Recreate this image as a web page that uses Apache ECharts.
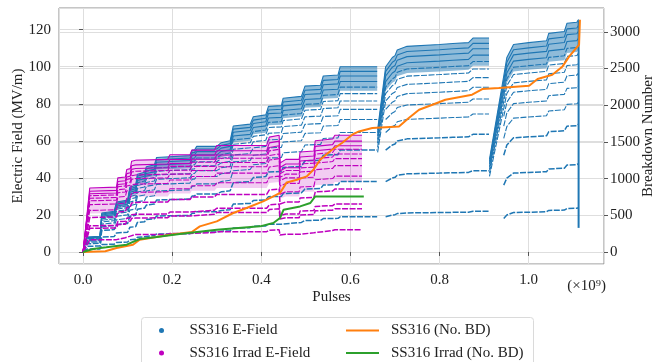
<!DOCTYPE html>
<html>
<head>
<meta charset="utf-8">
<script src="https://cdn.jsdelivr.net/npm/echarts@6/dist/echarts.min.js"></script>
<style>
html, body { margin: 0; padding: 0; background: #fff; }
#chart { width: 664px; height: 362px; }
</style>
</head>
<body>
<div id="chart"></div>
<script>
// upper edge of the SS316 E-field scatter, [pulses (1e9), MV/m]
const ssEnvelope1 = [[0, 0], [0.008, 8], [0.038, 8.5], [0.042, 21], [0.07, 22], [0.075, 27], [0.1, 28], [0.105, 35],
  [0.118, 36], [0.122, 42], [0.138, 43], [0.142, 46], [0.16, 47], [0.165, 51], [0.24, 52], [0.245, 55], [0.25, 55],
  [0.255, 57], [0.3, 57], [0.31, 59], [0.33, 60], [0.337, 68], [0.375, 69], [0.382, 73], [0.41, 74], [0.416, 78.6],
  [0.445, 79], [0.449, 83], [0.49, 84], [0.498, 89.5], [0.533, 90], [0.539, 95], [0.572, 95.5], [0.577, 100], [0.66, 100]];
const ssEnvelope2 = [[0.661, 66], [0.679, 100], [0.694, 105], [0.7, 106], [0.705, 109], [0.727, 111], [0.8, 112],
  [0.83, 112.5], [0.865, 113], [0.875, 115.5], [0.911, 115.5]];
const ssEnvelope3 = [[0.912, 50], [0.944, 95], [0.951, 105], [0.966, 112], [1.0, 113], [1.04, 114], [1.045, 118],
  [1.08, 119], [1.086, 123.5], [1.108, 124], [1.112, 125.5]];
const ssDrop = [[1.112, 13], [1.112, 125]];
// horizontal bands of the scatter, as fraction of the upper edge
const ssLevels = [0.19, 0.38, 0.55, 0.645, 0.715, 0.77, 0.815, 0.855, 0.89, 0.92, 0.95, 0.975, 1];

// upper edge of the SS316 Irrad E-field scatter
const irrEnvelope = [[0, 0], [0.015, 34.5], [0.075, 35], [0.078, 40], [0.095, 40.5], [0.098, 44.5], [0.106, 45],
  [0.109, 49], [0.118, 49.5], [0.12, 50], [0.19, 50], [0.195, 52.5], [0.24, 52.5], [0.244, 55], [0.295, 55],
  [0.3, 57.5], [0.412, 57.5], [0.418, 62], [0.44, 63], [0.442, 48], [0.455, 50], [0.485, 50], [0.487, 54],
  [0.518, 54.5], [0.521, 60], [0.56, 61], [0.565, 63], [0.626, 63]];
const irrLevels = [0.19, 0.37, 0.41, 0.54, 0.65, 0.74, 0.8, 0.84, 0.88, 0.91, 0.95, 1];

// cumulative breakdown number (right axis)
const ssBD = [[0, 0], [0.05, 10], [0.075, 54], [0.112, 99], [0.127, 167], [0.165, 204], [0.195, 236], [0.244, 272],
  [0.262, 349], [0.3, 417], [0.337, 531], [0.367, 599], [0.404, 689], [0.427, 757], [0.442, 804], [0.457, 948],
  [0.48, 985], [0.502, 1030], [0.517, 1121], [0.532, 1257], [0.558, 1390], [0.581, 1485], [0.604, 1598],
  [0.619, 1643], [0.649, 1689], [0.709, 1711], [0.731, 1826], [0.754, 1938], [0.784, 2007], [0.813, 2075],
  [0.873, 2143], [0.896, 2220], [0.933, 2234], [1.001, 2266], [1.02, 2357], [1.053, 2416], [1.076, 2529],
  [1.091, 2665], [1.113, 2824], [1.115, 3165]];
const irrBD = [[0, 0], [0.022, 41], [0.052, 63], [0.098, 99], [0.127, 177], [0.165, 204], [0.217, 245], [0.3, 304],
  [0.397, 349], [0.427, 395], [0.442, 463], [0.45, 576], [0.487, 621], [0.51, 667], [0.521, 757], [0.63, 757]];

const xTicks = [0, 0.2, 0.4, 0.6, 0.8, 1.0];

const BLUE = '#1f77b4', MAG = '#bf00bf', ORANGE = '#ff7f0e', GREEN = '#2ca02c';
const FONT = '"Liberation Serif", "Times New Roman", serif';

const chart = echarts.init(document.getElementById('chart'), null, { renderer: 'canvas' });

function band(name, env, lo, color, opacity) {
  return {
    type: 'custom', name: name, silent: true, clip: true, data: [[0, 0]],
    renderItem: function (params, api) {
      const top = env.map(p => api.coord([p[0], p[1]]));
      const bot = env.slice().reverse().map(p => api.coord([p[0], p[1] * lo]));
      return { type: 'polygon', shape: { points: top.concat(bot) }, style: { fill: color, opacity: opacity } };
    }
  };
}

// lower bands skip the steep ramp at the start of a run (only sparse points there)
function stripes(name, env, levels, color, skipRamp) {
  return levels.map(f => ({
    type: 'line', name: name, silent: true, showSymbol: false,
    data: (skipRamp && f < 0.8 ? env.slice(1) : env).map(p => [p[0], p[1] * f]),
    lineStyle: { color: color, width: f < 0.6 ? 1.5 : 1.1, type: f < 0.9 ? [6, 1.5] : 'solid' }
  }));
}

const series = [];
[ssEnvelope1, ssEnvelope2, ssEnvelope3].forEach((env, i) => {
  series.push(band('SS316 E-Field', env, 0.87, BLUE, 0.5));
  series.push(...stripes('SS316 E-Field', env, ssLevels, BLUE, i > 0));
});
series.push({ type: 'line', name: 'SS316 E-Field', silent: true, showSymbol: false, data: ssDrop, lineStyle: { color: BLUE, width: 2 } });
series.push(band('SS316 Irrad E-Field', irrEnvelope, 0.6, MAG, 0.2));
series.push(...stripes('SS316 Irrad E-Field', irrEnvelope, irrLevels, MAG, false));
series.push({ type: 'line', name: 'SS316 (No. BD)', yAxisIndex: 1, showSymbol: false, data: ssBD, lineStyle: { color: ORANGE, width: 2 }, itemStyle: { color: ORANGE } });
series.push({ type: 'line', name: 'SS316 Irrad (No. BD)', yAxisIndex: 1, showSymbol: false, data: irrBD, lineStyle: { color: GREEN, width: 2 }, itemStyle: { color: GREEN } });

const axisText = { fontFamily: FONT, fontSize: 15, color: '#222' };
const legendText = { fontFamily: FONT, fontSize: 15, color: '#222', lineHeight: 17 };

chart.setOption({
  animation: false,
  backgroundColor: '#fff',
  grid: { left: 59, right: 60, top: 8, bottom: 98, outerBoundsMode: 'none', containLabel: false, show: true, borderColor: '#8c8c8c', borderWidth: 1, backgroundColor: 'transparent' },
  xAxis: {
    type: 'value', min: -0.054, max: 1.169, splitNumber: 6,
    name: 'Pulses', nameLocation: 'middle', nameGap: 26, nameMoveOverlap: false, nameTextStyle: axisText,
    axisLine: { show: false },
    axisTick: { show: true, length: 4, lineStyle: { color: '#555' } },
    axisLabel: Object.assign({ margin: 9, showMinLabel: false, showMaxLabel: false, formatter: v => xTicks.some(t => Math.abs(t - v) < 1e-6) ? v.toFixed(1) : '' }, axisText),
    splitLine: { show: true, lineStyle: { color: '#dedede', width: 1 } }
  },
  yAxis: [{
    type: 'value', min: -6.5, max: 131.7, splitNumber: 6,
    name: 'Electric Field (MV/m)', nameLocation: 'middle', nameGap: 33, nameMoveOverlap: false, nameTextStyle: axisText,
    axisLine: { show: false },
    axisTick: { show: true, length: 4, lineStyle: { color: '#555' } },
    axisLabel: Object.assign({ margin: 8, showMinLabel: false, showMaxLabel: false, formatter: v => String(v) }, axisText),
    splitLine: { show: true, lineStyle: { color: '#dedede', width: 1.2 } }
  }, {
    type: 'value', min: -164, max: 3325, splitNumber: 6, position: 'right',
    name: 'Breakdown Number', nameLocation: 'middle', nameGap: 37, nameMoveOverlap: false, nameTextStyle: axisText,
    axisLine: { show: false },
    axisTick: { show: true, length: 4, lineStyle: { color: '#555' } },
    axisLabel: Object.assign({ margin: 6, showMinLabel: false, showMaxLabel: false, formatter: v => String(v) }, axisText),
    splitLine: { show: true, lineStyle: { color: '#dedede', width: 1.2 } }
  }],
  legend: [{
    orient: 'vertical', left: 159, top: 322, height: 60, padding: 0, itemWidth: 46, itemHeight: 5, itemGap: 5.4,
    textStyle: legendText, selectedMode: false,
    data: [
      { name: 'SS316 E-Field', icon: 'circle', itemStyle: { color: BLUE } },
      { name: 'SS316 Irrad E-Field', icon: 'circle', itemStyle: { color: MAG } }
    ]
  }, {
    orient: 'vertical', left: 346, top: 322, height: 60, padding: 0, itemWidth: 33, itemHeight: 5, itemGap: 5.4,
    textStyle: Object.assign({ padding: [0, 0, 0, 7] }, legendText), selectedMode: false,
    data: [
      { name: 'SS316 (No. BD)', icon: 'path://M0,0H33V2H0Z', itemStyle: { color: ORANGE } },
      { name: 'SS316 Irrad (No. BD)', icon: 'path://M0,0H33V2H0Z', itemStyle: { color: GREEN } }
    ]
  }],
  graphic: [{
    type: 'rect', left: 141, top: 317, z: -1,
    shape: { width: 392, height: 60, r: 3 },
    style: { fill: '#fff', stroke: '#dadada', lineWidth: 1 }
  }, {
    type: 'text', right: 58, top: 279,
    style: { text: '(×10⁹)', font: '15px ' + FONT, fill: '#222' }
  }],
  series: series
});
</script>
</body>
</html>
